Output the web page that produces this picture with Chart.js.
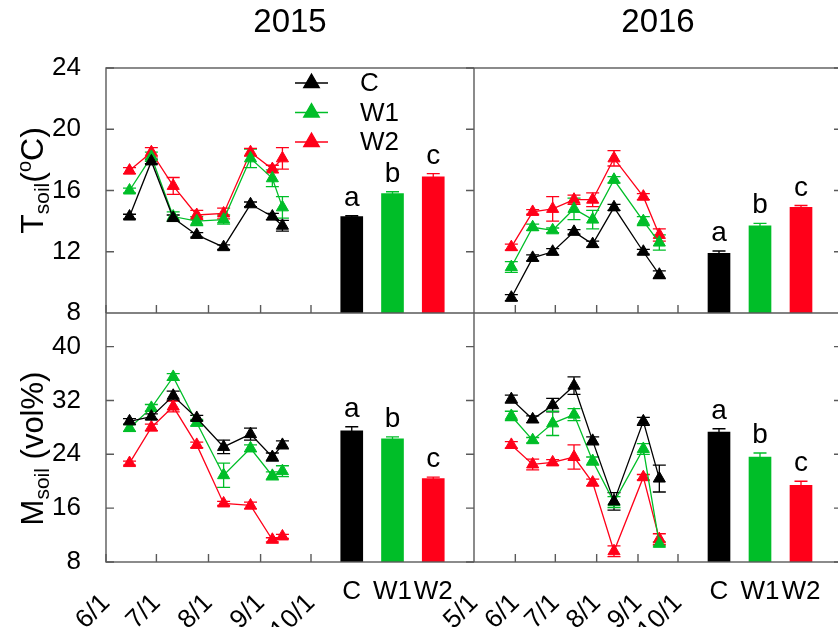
<!DOCTYPE html>
<html>
<head>
<meta charset="utf-8">
<script src="https://cdn.jsdelivr.net/npm/chart.js@4.4.0/dist/chart.umd.min.js"></script>
<style>
  html, body { margin: 0; padding: 0; background: #fff; overflow: hidden; }
  #wrap { position: relative; width: 852px; height: 627px; }
</style>
</head>
<body>
<div id="wrap"><canvas id="grafico" width="852" height="627"></canvas></div>
<script>
// fechas de muestreo
const fechas2015 = ['6/15', '6/28', '7/11', '7/25', '8/10', '8/26', '9/8', '9/14'];
const fechas2016 = ['5/29', '6/14', '6/29', '7/15', '7/29', '8/14', '9/5', '9/17'];
const meses2015 = ['6/1', '7/1', '8/1', '9/1', '10/1'];
const meses2016 = ['5/1', '6/1', '7/1', '8/1', '9/1', '10/1'];
const tratamientos = ['C', 'W1', 'W2'];
const letras = ['a', 'b', 'c'];
const colores = ['#000000', '#00be28', '#ff0019'];

// temperatura del suelo (oC)
const tC2015  = [14.3, 17.9, 14.2, 13.1, 12.3, 15.1, 14.3, 13.7];
const tW12015 = [16.0, 18.2, 14.3, 14.0, 14.1, 18.1, 16.8, 14.9];
const tW22015 = [17.3, 18.5, 16.3, 14.4, 14.5, 18.5, 17.4, 18.1];
const tC2016  = [9.0, 11.6, 12.0, 13.3, 12.5, 14.9, 12.0, 10.5];
const tW12016 = [11.0, 13.6, 13.4, 14.8, 14.1, 16.7, 14.0, 12.6];
const tW22016 = [12.3, 14.6, 14.8, 15.4, 15.4, 18.1, 15.6, 13.1];
const eTC2015  = [0.15, 0.15, 0.2, 0.15, 0.15, 0.15, 0.2, 0.35];
const eTW12015 = [0.15, 0.3, 0.3, 0.3, 0.3, 0.6, 0.55, 0.7];
const eTW22015 = [0.2, 0.3, 0.55, 0.3, 0.35, 0.25, 0.25, 0.7];
const eTC2016  = [0.2, 0.2, 0.2, 0.15, 0.2, 0.2, 0.15, 0.25];
const eTW12016 = [0.35, 0.2, 0.15, 0.7, 0.6, 0.2, 0.3, 0.5];
const eTW22016 = [0.2, 0.15, 0.8, 0.3, 0.45, 0.5, 0.2, 0.4];
const barT2015 = [14.3, 15.8, 16.9];
const barT2016 = [11.9, 13.7, 14.9];
const eBarT2015 = [0.05, 0.12, 0.2];
const eBarT2016 = [0.15, 0.15, 0.12];

// humedad del suelo (vol%)
const mC2015  = [28.9, 29.6, 32.7, 29.4, 25.1, 27.0, 23.6, 25.4];
const mW12015 = [27.9, 30.9, 35.5, 28.7, 20.9, 24.9, 20.8, 21.5];
const mW22015 = [22.7, 28.0, 31.1, 25.4, 16.7, 16.4, 11.3, 11.8];
const mC2016  = [32.2, 29.2, 31.3, 34.2, 26.0, 17.0, 28.9, 20.4];
const mW12016 = [29.7, 26.1, 28.6, 29.9, 23.0, 16.9, 24.8, 10.7];
const mW22016 = [25.4, 22.5, 22.8, 23.6, 19.8, 9.6, 20.6, 11.4];
const eMC2015  = [0.4, 0.4, 0.7, 0.4, 1.0, 0.9, 0.6, 0.6];
const eMW12015 = [0.5, 0.5, 0.5, 0.5, 1.8, 0.5, 0.6, 0.8];
const eMW22015 = [0.3, 0.5, 0.8, 0.4, 0.3, 0.5, 0.3, 0.3];
const eMC2016  = [0.6, 0.5, 1.0, 1.3, 0.6, 1.3, 0.6, 2.0];
const eMW12016 = [0.7, 0.4, 1.8, 0.9, 0.6, 0.8, 0.8, 0.3];
const eMW22016 = [0.5, 0.8, 0.4, 1.8, 0.5, 0.8, 0.4, 0.8];
const barM2015 = [27.5, 26.3, 20.4];
const barM2016 = [27.3, 23.6, 19.4];
const eBarM2015 = [0.6, 0.3, 0.2];
const eBarM2016 = [0.5, 0.6, 0.6];

const fuente = "'Liberation Sans', Arial, sans-serif";

// dias desde 1970 para un eje lineal de fechas
const dia = (anio, md) => {
  const [m, d] = md.split('/').map(Number);
  return Date.UTC(anio, m - 1, d) / 86400000;
};

// sin relleno extra por etiquetas, para que el area quede fija
const sinRelleno = (s) => { s.height = 65; s.paddingLeft = 0; s.paddingRight = 0; };

function ejeFecha(anio, meses, peso) {
  const valores = meses.map(m => dia(anio, m));
  return {
    type: 'linear', position: 'bottom', stack: 'x', stackWeight: peso,
    min: valores[0], max: valores[valores.length - 1],
    grid: { display: false }, border: { display: false },
    afterBuildTicks: (s) => { s.ticks = valores.map(v => ({ value: v })); },
    afterFit: sinRelleno,
    ticks: {
      autoSkip: false, minRotation: 45, maxRotation: 45, padding: 18, color: '#000',
      font: { family: fuente, size: 26 },
      callback: (v) => meses[valores.indexOf(v)] ?? ''
    }
  };
}

function ejeTrat(peso) {
  return {
    type: 'category', labels: ['', ...tratamientos, ''], offset: false,
    position: 'bottom', stack: 'x', stackWeight: peso,
    grid: { display: false, offset: false }, border: { display: false },
    afterFit: sinRelleno,
    ticks: {
      autoSkip: false, minRotation: 0, maxRotation: 0, padding: 6, color: '#000',
      font: { family: fuente, size: 26 }
    }
  };
}

function ejeY(min, max, paso, peso) {
  return {
    type: 'linear', position: 'left', stack: 'y', stackWeight: peso,
    min: min, max: max,
    grid: { display: false }, border: { display: false },
    afterBuildTicks: (s) => {
      const t = [];
      for (let v = min; v <= max; v += paso) t.push({ value: v });
      s.ticks = t;
    },
    afterFit: (s) => { s.width = 106; },
    ticks: { padding: 17, color: '#000', font: { family: fuente, size: 26 } }
  };
}

function serie(anio, fechas, valores, errores, color, xId, yId) {
  return {
    type: 'line', xAxisID: xId, yAxisID: yId,
    data: fechas.map((f, i) => ({ x: dia(anio, f), y: valores[i] })),
    borderColor: color, backgroundColor: color, borderWidth: 1.3,
    pointStyle: 'triangle', pointRadius: 7, pointBorderWidth: 1,
    pointBorderColor: color, pointBackgroundColor: color,
    errores: errores, colorError: color
  };
}

function barras(valores, errores, xId, yId) {
  return {
    type: 'bar', xAxisID: xId, yAxisID: yId, grouped: false,
    data: tratamientos.map((t, i) => ({ x: t, y: valores[i] })),
    backgroundColor: colores, barThickness: 22,
    errores: errores, colorError: colores, letras: letras
  };
}

// barras de error y letras de significancia
const errores = {
  id: 'errores',
  beforeDatasetsDraw(chart) {
    const ctx = chart.ctx;
    chart.data.datasets.forEach((ds, i) => {
      if (!ds.errores) return;
      const meta = chart.getDatasetMeta(i);
      const ys = chart.scales[ds.yAxisID];
      meta.data.forEach((el, j) => {
        const v = ds.data[j].y, e = ds.errores[j];
        const y1 = ys.getPixelForValue(v + e), y2 = ys.getPixelForValue(v - e);
        ctx.save();
        ctx.strokeStyle = Array.isArray(ds.colorError) ? ds.colorError[j] : ds.colorError;
        ctx.lineWidth = 1.3;
        ctx.beginPath();
        ctx.moveTo(el.x, y1); ctx.lineTo(el.x, y2);
        ctx.moveTo(el.x - 6.5, y1); ctx.lineTo(el.x + 6.5, y1);
        ctx.moveTo(el.x - 6.5, y2); ctx.lineTo(el.x + 6.5, y2);
        ctx.stroke();
        ctx.restore();
      });
    });
  },
  afterDatasetsDraw(chart) {
    const ctx = chart.ctx;
    chart.data.datasets.forEach((ds, i) => {
      if (!ds.letras) return;
      const meta = chart.getDatasetMeta(i);
      const ys = chart.scales[ds.yAxisID];
      meta.data.forEach((el, j) => {
        const y = ys.getPixelForValue(ds.data[j].y + ds.errores[j]);
        ctx.save();
        ctx.fillStyle = '#000';
        ctx.font = '28px ' + fuente;
        ctx.textAlign = 'center';
        ctx.textBaseline = 'alphabetic';
        ctx.fillText(ds.letras[j], el.x, y - 10);
        ctx.restore();
      });
    });
  }
};

// marco, marcas interiores, titulos y leyenda
const marco = {
  id: 'marco',
  afterDraw(chart) {
    const { ctx, chartArea: a, scales: s } = chart;
    ctx.save();
    ctx.strokeStyle = '#5a5a5a';
    ctx.lineWidth = 1.4;
    ctx.strokeRect(a.left, a.top, a.right - a.left, a.bottom - a.top);
    ctx.beginPath();
    ctx.moveTo(a.left, s.yT.bottom); ctx.lineTo(a.right, s.yT.bottom);
    ctx.moveTo(s.x16d.left, a.top); ctx.lineTo(s.x16d.left, a.bottom);
    const t = 8;
    ['yT', 'yM'].forEach(id => {
      const y = s[id];
      y.ticks.forEach(tk => {
        const py = y.getPixelForValue(tk.value);
        ctx.moveTo(a.left, py); ctx.lineTo(a.left + t, py);
        ctx.moveTo(s.x16d.left, py); ctx.lineTo(s.x16d.left - t, py);
        ctx.moveTo(a.right, py); ctx.lineTo(a.right - t, py);
      });
    });
    ['x15d', 'x16d'].forEach(id => {
      const x = s[id];
      x.ticks.forEach(tk => {
        const px = x.getPixelForValue(tk.value);
        ['yT', 'yM'].forEach(yId => {
          const b = s[yId].bottom;
          ctx.moveTo(px, b); ctx.lineTo(px, b - t);
        });
      });
    });
    ctx.stroke();

    // titulos de anio
    ctx.fillStyle = '#000';
    ctx.font = '33px ' + fuente;
    ctx.textAlign = 'center';
    ctx.textBaseline = 'middle';
    ctx.fillText('2015', (s.x15d.left + s.x15c.right) / 2, 23);
    ctx.fillText('2016', (s.x16d.left + s.x16c.right) / 2, 23);

    // titulos de eje con subindice
    const tituloY = (partes, cy) => {
      ctx.save();
      ctx.translate(43, cy);
      ctx.rotate(-Math.PI / 2);
      ctx.textAlign = 'left';
      ctx.textBaseline = 'alphabetic';
      let ancho = 0;
      partes.forEach(p => { ctx.font = p[1] + 'px ' + fuente; ancho += ctx.measureText(p[0]).width; });
      let x = -ancho / 2;
      partes.forEach(p => {
        ctx.font = p[1] + 'px ' + fuente;
        ctx.fillText(p[0], x, p[2]);
        x += ctx.measureText(p[0]).width;
      });
      ctx.restore();
    };
    tituloY([['T', 32, 0], ['soil', 21, 6], ['(', 32, 0], ['o', 20, -12], ['C)', 32, 0]], (s.yT.top + s.yT.bottom) / 2 - 10);
    tituloY([['M', 31, 0], ['soil', 21, 6], [' (vol%)', 31, 0]], (s.yM.top + s.yM.bottom) / 2 + 11);

    // leyenda
    const series = ['C', 'W1', 'W2'];
    series.forEach((nom, i) => {
      const y = s.yT.top + 15 + i * 29.5;
      const x0 = a.left + 189, x1 = a.left + 222;
      ctx.strokeStyle = colores[i];
      ctx.fillStyle = colores[i];
      ctx.lineWidth = 1.3;
      ctx.beginPath(); ctx.moveTo(x0, y); ctx.lineTo(x1, y); ctx.stroke();
      Chart.helpers.drawPoint(ctx, { pointStyle: 'triangle', radius: 9, rotation: 0, borderWidth: 1 }, (x0 + x1) / 2, y);
      ctx.fillStyle = '#000';
      ctx.font = '26px ' + fuente;
      ctx.textAlign = 'left';
      ctx.textBaseline = 'middle';
      ctx.fillText(nom, a.left + 254, y + 1);
    });
    ctx.restore();
  }
};

const datos = {
  datasets: [
    serie(2015, fechas2015, tC2015, eTC2015, colores[0], 'x15d', 'yT'),
    serie(2015, fechas2015, tW12015, eTW12015, colores[1], 'x15d', 'yT'),
    serie(2015, fechas2015, tW22015, eTW22015, colores[2], 'x15d', 'yT'),
    serie(2016, fechas2016, tC2016, eTC2016, colores[0], 'x16d', 'yT'),
    serie(2016, fechas2016, tW12016, eTW12016, colores[1], 'x16d', 'yT'),
    serie(2016, fechas2016, tW22016, eTW22016, colores[2], 'x16d', 'yT'),
    serie(2015, fechas2015, mC2015, eMC2015, colores[0], 'x15d', 'yM'),
    serie(2015, fechas2015, mW12015, eMW12015, colores[1], 'x15d', 'yM'),
    serie(2015, fechas2015, mW22015, eMW22015, colores[2], 'x15d', 'yM'),
    serie(2016, fechas2016, mC2016, eMC2016, colores[0], 'x16d', 'yM'),
    serie(2016, fechas2016, mW12016, eMW12016, colores[1], 'x16d', 'yM'),
    serie(2016, fechas2016, mW22016, eMW22016, colores[2], 'x16d', 'yM'),
    barras(barT2015, eBarT2015, 'x15c', 'yT'),
    barras(barT2016, eBarT2016, 'x16c', 'yT'),
    barras(barM2015, eBarM2015, 'x15c', 'yM'),
    barras(barM2016, eBarM2016, 'x16c', 'yM')
  ]
};

const config = {
  type: 'line',
  data: datos,
  options: {
    responsive: false,
    animation: false,
    layout: { padding: { top: 68, left: 0, right: 10, bottom: 0 } },
    plugins: { legend: { display: false }, tooltip: { enabled: false } },
    scales: {
      yT: Object.assign(ejeY(8, 24, 4, 245), { weight: 1 }),
      yM: Object.assign(ejeY(8, 45, 8, 249), { weight: 0 }),
      x15d: ejeFecha(2015, meses2015, 205),
      x15c: ejeTrat(163),
      x16d: ejeFecha(2016, meses2016, 204),
      x16c: ejeTrat(164)
    }
  },
  plugins: [errores, marco]
};

const myChart = new Chart(document.getElementById('grafico'), config);
</script>
</body>
</html>
